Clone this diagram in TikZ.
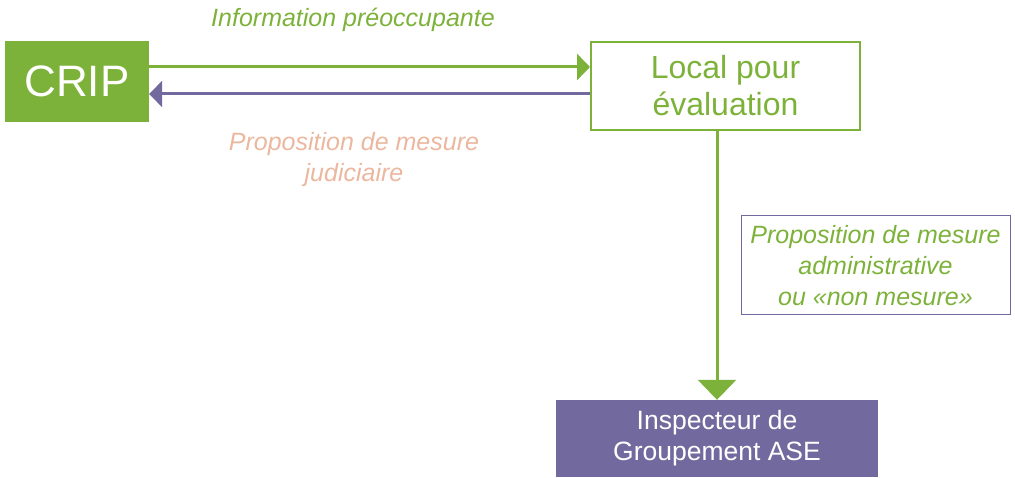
\documentclass[tikz,border=0pt]{standalone}
\usepackage{fontspec}
\setmainfont{Liberation Sans}
\usepackage{xcolor}
\usetikzlibrary{positioning,arrows.meta}

\definecolor{cripgreen}{HTML}{7DB23A}
\definecolor{asepurple}{HTML}{726A9E}
\definecolor{judpink}{HTML}{EBB89F}

\begin{document}
\begin{tikzpicture}[x=1pt, y=-1pt,
	box/.style={rectangle, inner sep=0, align=center},
	lbl/.style={inner sep=0, align=center, font=\itshape\fontsize{25}{31}\selectfont},
	greenflow/.style={draw=cripgreen, line width=3pt, -{Triangle[length=13pt, width=26pt]}},
	purpleflow/.style={draw=asepurple, line width=3pt, -{Triangle[length=13pt, width=26pt]}}]
	\useasboundingbox (0,0) rectangle (1015,478);
	% boxes
	\node[box, fill=cripgreen, text=white, minimum width=144pt, minimum height=81pt,
		font=\fontsize{44}{48}\selectfont] at(77,81.5) (crip) {CRIP};
	\node[box, draw=cripgreen, line width=2pt, text=cripgreen, minimum width=269pt, minimum height=88pt,
		font=\fontsize{32}{37}\selectfont] at(725.5,86) (local) {Local pour\\évaluation};
	\node[box, fill=asepurple, text=white, minimum width=322pt, minimum height=77pt,
		font=\fontsize{26.5}{31}\selectfont] at(717,438.5) (inspecteur) {Inspecteur de\\Groupement ASE};
	% labels
	\node[lbl, text=cripgreen] at(353,20) (info) {Information préoccupante};
	\node[lbl, text=judpink] at(354,160) (judic) {Proposition de mesure\\judiciaire};
	\node[box, draw=asepurple, line width=1pt, text=cripgreen, minimum width=269pt, minimum height=99pt,
		font=\itshape\fontsize{25}{31}\selectfont] at(875.5,265.5) (admin) {Proposition de mesure\\administrative\\ou «non mesure»};
	% arrows
	\coordinate (hgreen) at (0,67);
	\coordinate (hpurple) at (0,94);
	\draw[greenflow] (crip.east |- hgreen) -- (local.west |- hgreen);
	\draw[purpleflow] (local.west |- hpurple) -- (crip.east |- hpurple);
	\draw[draw=cripgreen, line width=3pt, -{Triangle[length=20pt, width=38pt]}]
		(local.south -| inspecteur.north) -- (inspecteur.north);
\end{tikzpicture}
\end{document}
